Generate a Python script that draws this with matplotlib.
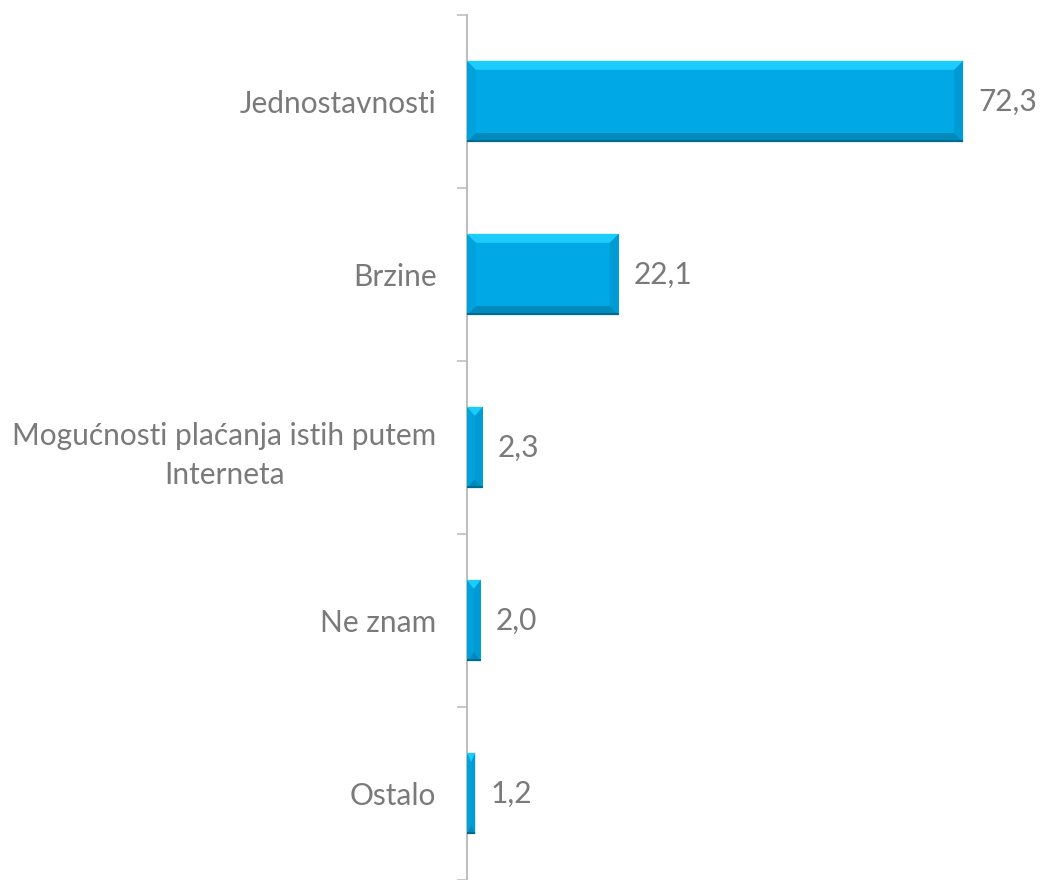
import matplotlib
matplotlib.use("Agg")
import matplotlib.pyplot as plt
from matplotlib.patches import Polygon

categories = ["Jednostavnosti", "Brzine",
              "Mogućnosti plaćanja istih putem\nInterneta", "Ne znam", "Ostalo"]
values = [72.3, 22.1, 2.3, 2.0, 1.2]
value_labels = ["72,3", "22,1", "2,3", "2,0", "1,2"]

plt.rcParams['font.family'] = ['Lato', 'DejaVu Sans']
text_gray = '#7a7a7a'
axis_gray = '#bfbfbf'

fig = plt.figure(figsize=(10.4, 8.8), dpi=100)
ax = fig.add_axes([0.449, 0.0, 0.551, 0.983])

pos = list(range(len(categories)))
bars = ax.barh(pos, values, height=0.47, color='#00A9E6', edgecolor='none', zorder=2)
ax.set_xlim(0, 83.5)
ax.set_ylim(len(categories) - 0.5, -0.5)
fig.canvas.draw()

# bevel effect: light top strip, darker bottom, soft side edges
inv = ax.transData.inverted()
bev_px = 9
for b in bars:
    x0, y0 = b.get_x(), b.get_y()
    x1, y1 = x0 + b.get_width(), y0 + b.get_height()
    (px0, py0) = ax.transData.transform((x0, y0))
    (px1, py1) = ax.transData.transform((x1, y1))
    bw = min(bev_px, (px1 - px0) / 2.0)
    bh = bev_px
    top_py = max(py0, py1)
    bot_py = min(py0, py1)
    ix0, ix1 = px0 + bw, px1 - bw
    itop, ibot = top_py - bh, bot_py + bh

    def d(p):
        return inv.transform(p)
    top = [d((px0, top_py)), d((px1, top_py)), d((ix1, itop)), d((ix0, itop))]
    bot = [d((px0, bot_py)), d((px1, bot_py)), d((ix1, ibot)), d((ix0, ibot))]
    left = [d((px0, top_py)), d((ix0, itop)), d((ix0, ibot)), d((px0, bot_py))]
    right = [d((px1, top_py)), d((ix1, itop)), d((ix1, ibot)), d((px1, bot_py))]
    edge = [d((px0, bot_py)), d((px1, bot_py)), d((px1, bot_py + 2)), d((px0, bot_py + 2))]
    ax.add_patch(Polygon(left, closed=True, color='#00A2DD', lw=0, zorder=3))
    ax.add_patch(Polygon(right, closed=True, color='#009BD4', lw=0, zorder=3))
    ax.add_patch(Polygon(top, closed=True, color='#1CCDFB', lw=0, zorder=4))
    ax.add_patch(Polygon(bot, closed=True, color='#0089BA', lw=0, zorder=4))
    ax.add_patch(Polygon(edge, closed=True, color='#006A90', lw=0, zorder=5))

for i, (v, lab) in enumerate(zip(values, value_labels)):
    ax.annotate(lab, (v, i), xytext=(11, 0), textcoords='offset points',
                va='center', ha='left', fontsize=21.5, color=text_gray)

ax.set_yticks(pos)
ax.set_yticklabels(categories, fontsize=21.5, color=text_gray,
                   multialignment='center', linespacing=1.5)
ax.tick_params(axis='y', which='major', length=0, pad=22)
ax.set_yticks([p - 0.5 for p in pos] + [len(pos) - 0.5], minor=True)
ax.tick_params(axis='y', which='minor', length=7, color=axis_gray, width=1.2)
ax.set_xticks([])

for s in ['top', 'right', 'bottom']:
    ax.spines[s].set_visible(False)
ax.spines['left'].set_color(axis_gray)
ax.spines['left'].set_linewidth(1.5)

fig.savefig("out.png", dpi=100)
